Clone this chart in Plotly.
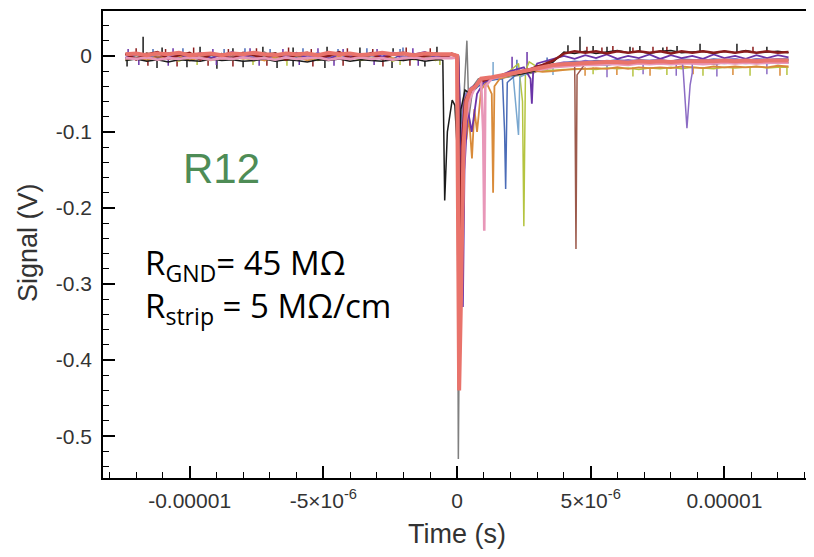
import plotly.graph_objects as go

# time grids (microseconds) for the quiet parts of every trace
T_PRE = [-12.4, -12.0, -11.6, -11.2, -10.8, -10.4, -10.0, -9.6, -9.2, -8.8,
         -8.4, -8.0, -7.6, -7.2, -6.8, -6.4, -6.0, -5.6, -5.2, -4.8,
         -4.4, -4.0, -3.6, -3.2, -2.8, -2.4, -2.0, -1.6, -1.2, -0.8, -0.4]
T_POST = [3.2, 3.6, 4.0, 4.4, 4.8, 5.2, 5.6, 6.0, 6.4, 6.8,
          7.2, 7.6, 8.0, 8.4, 8.8, 9.2, 9.6, 10.0, 10.4, 10.8,
          11.2, 11.6, 12.0, 12.4]

# baseline before the trigger (mV)
pre = {
    "gray": [-4, 1, 3, -5, 2, -2, 4, -3, 0, 3,
             -4, 1, -1, 5, -3, 2, -5, 1, 3, -2,
             4, -3, 0, 2, -4, 2, -1, 3, -3, 1, 2],
    "yellowgreen": [-6, -3, 0, -5, -2, -7, -1, -4, -6, -2,
                    -5, -2, -7, -1, -4, -6, 0, -3, -6, -2,
                    -4, -1, -6, -3, -1, -7, -2, -5, -3, -6, -2],
    "lightblue": [-2, 3, -4, 1, 2, -3, 0, 3, -2, 2,
                  -4, 1, 3, -2, 4, -3, 0, -1, 2, 3,
                  -4, 2, -1, 3, -3, 1, 2, -2, 4, -1, 0],
    "blue": [3, -2, 1, -4, 4, -1, -3, 2, 4, -3,
             2, -1, 5, -4, 0, 3, -2, -1, 4, -3,
             2, 4, -3, 0, 2, -4, 3, 1, -2, 3, -2],
    "orange": [-5, -2, -6, -1, -4, 0, -6, -2, -3, -5,
               -1, -4, -2, -6, -1, -3, 0, -6, -2, -4,
               -1, -5, 0, -4, -2, -3, -6, -1, -3, -5, -2],
    "brownred": [2, -3, 4, -2, 1, -4, 3, 0, -3, 3,
                 -1, 2, -4, 2, 4, -2, 0, -3, 3, -1,
                 2, 4, -3, 1, -4, 2, 3, -2, 0, -3, 2],
    "purple2": [1, -5, 0, 3, -2, 4, -1, -5, 3, 1,
                -3, 4, -2, 2, -6, 1, 3, -1, 4, -3,
                2, -4, 3, 0, -2, 5, -1, -4, 2, 3, -2],
    "purple": [-3, 3, -1, 5, -4, 2, -2, 4, -3, 1,
               5, -2, 3, -4, 2, -1, 4, -3, 2, -5,
               3, 0, -2, 4, -1, 3, -4, 2, 5, -2, 1],
    "black": [-6, -4, -7, -5, -8, -5, -6, -7, -4, -6,
              -5, -7, -6, -4, -7, -5, -6, -8, -5, -6,
              -4, -7, -5, -6, -7, -5, -6, -4, -7, -5, -6],
    "darkred": [3, -5, 2, 5, -4, 1, 4, -5, 2, 0,
                -4, 4, 1, -3, 3, -5, 2, 4, -2, 0,
                5, -3, 1, 3, -4, 2, 4, -3, 0, 3, -2],
    "pink": [-3, -4, -2, -5, -3, -4, -2, -3, -5, -3,
             -4, -2, -4, -3, -5, -2, -4, -3, -2, -5,
             -3, -4, -2, -4, -3, -5, -3, -2, -4, -3, -3],
    "salmon": [2, 3, 1, 3, 2, 4, 1, 2, 3, 1,
               3, 2, 4, 2, 1, 3, 2, 3, 1, 4,
               2, 3, 1, 2, 4, 2, 3, 1, 3, 2, 2],
}

# trigger region: times (us) and signal (mV)
event_t = {
    "gray": [-0.2, 0.0, 0.05, 0.12, 0.25, 0.37, 0.45, 0.6, 0.8, 1.2, 1.8, 2.4, 2.9],
    "yellowgreen": [-0.2, 0.05, 0.12, 0.25, 0.5, 0.8, 1.2, 1.8, 2.3, 2.45, 2.5, 2.56, 2.7, 3.0],
    "lightblue": [-0.2, 0.05, 0.15, 0.3, 0.6, 1.0, 1.5, 2.1, 2.25, 2.3, 2.35, 2.7, 3.0],
    "blue": [-0.2, 0.05, 0.15, 0.3, 0.5, 0.8, 1.2, 1.7, 1.78, 1.82, 1.88, 2.2, 2.7, 3.0],
    "orange": [-0.2, 0.05, 0.15, 0.25, 0.35, 0.45, 0.56, 0.65, 0.75, 0.9, 1.1, 1.3, 1.35, 1.4,
               1.6, 2.0, 2.5, 3.0],
    "brownred": [-0.2, 0.05, 0.14, 0.25, 0.4, 0.7, 1.1, 1.6, 2.2, 2.8],
    "purple2": [-0.2, 0.05, 0.12, 0.25, 0.5, 0.9, 1.4, 2.0, 2.6, 3.0],
    "purple": [-0.2, 0.05, 0.15, 0.22, 0.28, 0.4, 0.55, 0.75, 1.0, 1.5, 2.0, 2.5, 2.75, 2.8,
               2.85, 3.0],
    "black": [-0.6, -0.53, -0.46, -0.36, -0.3, -0.18, -0.08, 0.05, 0.15, 0.3, 0.5, 0.8, 1.2,
              1.8, 2.4, 2.9],
    "darkred": [-0.2, 0.03, 0.1, 0.18, 0.3, 0.5, 0.8, 1.2, 1.7, 2.2, 2.7, 3.0],
    "pink": [-0.2, 0.02, 0.1, 0.18, 0.3, 0.5, 0.7, 0.9, 0.98, 1.02, 1.06, 1.3, 1.8, 2.3, 2.8],
    "salmon": [-0.2, 0.0, 0.04, 0.08, 0.16, 0.24, 0.35, 0.5, 0.7, 0.9, 1.3, 1.8, 2.3, 2.8],
}
event_v = {
    "gray": [2, 0, -530, -200, -60, 20, -80, -40, -30, -32, -28, -25, -22],
    "yellowgreen": [-3, -2, -160, -60, -45, -38, -30, -25, -10, -60, -224, -20, -8, -14],
    "lightblue": [1, 0, -90, -50, -42, -35, -30, -26, -80, -104, -28, -22, -20],
    "blue": [2, -1, -180, -70, -50, -40, -32, -30, -100, -175, -35, -25, -20, -18],
    "orange": [-3, -2, -150, -60, -110, -80, -135, -70, -100, -45, -35, -50, -180, -40,
               -30, -26, -22, -20],
    "brownred": [2, 0, -140, -60, -48, -38, -30, -26, -22, -18],
    "purple2": [1, -1, -130, -55, -42, -33, -28, -24, -20, -16],
    "purple": [2, 0, -120, -330, -150, -70, -100, -50, -35, -28, -20, -15, -30, -63,
               -20, -10],
    "black": [-5, -6, -190, -100, -85, -58, -65, -150, -70, -45, -50, -35, -28,
              -26, -24, -20],
    "darkred": [3, 0, -300, -120, -60, -45, -35, -30, -25, -22, -18, -14],
    "pink": [-3, -2, -400, -250, -90, -55, -40, -32, -100, -230, -40, -30, -26, -22, -18],
    "salmon": [2, 0, -200, -440, -300, -120, -60, -45, -40, -30, -28, -25, -22, -18],
}

# late single pulses (us, mV)
late_t = {"brownred": [4.41, 4.45, 4.49], "purple2": [8.45, 8.6, 8.72, 8.8]}
late_v = {"brownred": [-40, -254, -25], "purple2": [-14, -95, -38, -22]}

# baseline after recovery (mV)
post = {
    "gray": [-16, -14, -13, -12, -12, -11, -12, -10, -11, -10, -9, -11,
             -10, -10, -9, -10, -11, -9, -10, -9, -10, -9, -10, -9],
    "yellowgreen": [-19, -19, -18, -18, -17, -18, -16, -17, -16, -18, -16, -17,
                    -15, -17, -15, -16, -17, -15, -16, -15, -14, -16, -15, -15],
    "lightblue": [-16, -15, -13, -12, -12, -11, -12, -10, -11, -10, -11, -10,
                  -11, -9, -10, -11, -9, -10, -9, -10, -9, -10, -9, -9],
    "blue": [-14, -12, -9, -7, -8, -6, -7, -5, -7, -5, -6, -5,
             -7, -4, -5, -6, -4, -5, -4, -6, -4, -5, -4, -4],
    "orange": [-21, -20, -18, -17, -17, -16, -17, -15, -17, -15, -16, -15,
               -16, -14, -15, -16, -14, -15, -14, -15, -14, -15, -13, -14],
    "brownred": [-16, -13, -11, -12, -10, -9, -10, -8, -9, -7, -8, -9,
                 -8, -9, -7, -8, -7, -9, -7, -6, -8, -7, -7, -6],
    "purple2": [-13, -11, -8, -9, -6, -8, -6, -7, -5, -7, -6, -5,
                -8, -5, -6, -4, -6, -5, -4, -6, -4, -5, -4, -5],
    "purple": [-8, -3, 0, -4, 1, -3, 2, -4, 0, -3, 2, -4,
               1, -3, 0, -4, 2, -3, 0, -4, 1, -3, 1, -2],
    "black": [-14, -8, 5, 3, 6, 3, 5, 7, 4, 6, 3, 6,
              7, 4, 5, 6, 3, 6, 4, 7, 4, 5, 6, 4],
    "darkred": [-12, -6, 3, 6, 4, 6, 3, 6, 4, 6, 4, 6,
                3, 6, 4, 6, 4, 6, 4, 6, 4, 6, 4, 5],
    "pink": [-18, -15, -14, -13, -12, -12, -11, -11, -12, -10, -11, -10,
             -11, -10, -10, -11, -10, -9, -10, -9, -10, -9, -9, -9],
    "salmon": [-15, -12, -11, -10, -9, -9, -8, -8, -9, -7, -8, -7,
               -8, -7, -7, -8, -7, -6, -7, -6, -7, -6, -6, -6],
}

# narrow noise spikes: drawn from a base level (mV) up/down to a value (mV) at time t (us)
ticks = [
    dict(trace="black", base=0,
         t=[-11.74, -11.03, -9.61, -8.38, -7.26, -6.13, -4.86, -3.63, -2.39, -0.75],
         v=[25, 11, 12, 10, 12, 11, 12, 11, 10, 12]),
    dict(trace="purple", base=0,
         t=[-12.3, -10.62, -9.13, -7.74, -6.51, -5.2, -4.26, -2.99, -1.65],
         v=[9, 10, 9, 10, 9, 10, 9, 9, 10]),
    dict(trace="blue", base=0,
         t=[-11.37, -10.25, -8.71, -7.93, -6.99, -5.76, -4.45, -3.37, -2.13, -2.02],
         v=[9, 10, 9, 10, 9, 10, 9, 10, 9, 11]),
    dict(trace="darkred", base=0,
         t=[-12.0, -10.9, -9.85, -8.55, -7.5, -6.3, -5.45, -4.1, -3.15, -1.9, -1.0],
         v=[10, 9, 11, 9, 10, 11, 9, 10, 9, 11, 10]),
    dict(trace="black", base=-6,
         t=[-12.34, -11.22, -10.1, -8.98, -8.0, -6.73, -6.13, -4.94, -3.63, -2.43, -1.2],
         v=[-14, -16, -15, -17, -15, -16, -14, -16, -15, -16, -14]),
    dict(trace="darkred", base=-4,
         t=[-11.56, -10.47, -9.31, -8.38, -7.11, -5.39, -4.26, -2.77, -1.76],
         v=[-13, -14, -13, -14, -13, -14, -13, -14, -13]),
    dict(trace="purple", base=-4,
         t=[-11.9, -10.8, -9.0, -7.4, -5.9, -4.6, -3.1, -1.45],
         v=[-12, -13, -12, -13, -12, -13, -12, -13]),
    dict(trace="yellowgreen", base=-4,
         t=[-9.72, -7.63, -6.36, -2.13, -0.64],
         v=[-12, -12, -13, -12, -12]),
    dict(trace="black", base=5,
         t=[4.15, 4.6, 5.09, 5.61, 6.47, 6.84, 7.7, 8.23, 9.09, 10.47, 11.59],
         v=[14, 25, 13, 12, 12, 13, 11, 13, 16, 16, 12]),
    dict(trace="darkred", base=5,
         t=[4.86, 5.42, 5.83, 6.58, 7.33, 7.85, 11.07],
         v=[12, 11, 13, 11, 12, 12, 12]),
    dict(trace="orange", base=-15,
         t=[4.79, 5.98, 7.22, 8.83, 10.32, 12.08],
         v=[-26, -25, -26, -24, -25, -26]),
    dict(trace="yellowgreen", base=-15,
         t=[5.09, 6.58, 7.85, 9.2, 10.96, 12.34],
         v=[-24, -27, -25, -26, -26, -25]),
    dict(trace="purple2", base=-6,
         t=[5.61, 6.96, 8.2, 9.72, 11.59],
         v=[-28, -24, -26, -27, -24]),
    dict(trace="purple", base=-22,
         t=[2.06, 2.62], v=[-1, 5]),
    dict(trace="blue", base=-20,
         t=[2.24, 3.37], v=[-5, -2]),
    dict(trace="lightblue", base=-25,
         t=[1.35, 3.59], v=[-8, -4]),
]

colors = {
    "gray": "#7f7f7f", "yellowgreen": "#b5c440", "lightblue": "#79a7cf",
    "blue": "#4b6cb7", "orange": "#d98b3a", "brownred": "#9c5a4c",
    "purple2": "#8c6cc4", "purple": "#6a34a8", "black": "#1b1b1b",
    "darkred": "#8b1c1c", "pink": "#e897b8", "salmon": "#e9736b",
}
widths = {"pink": 2.6, "salmon": 4.0, "darkred": 2.5, "purple": 1.8, "orange": 1.8}

X_TICKS = [-1e-5, -5e-6, 0, 5e-6, 1e-5]
X_LABELS = ["-0.00001", "-5×10<sup>-6</sup>", "0", "5×10<sup>-6</sup>", "0.00001"]
Y_TICKS = [0, -0.1, -0.2, -0.3, -0.4, -0.5]
Y_LABELS = ["0", "-0.1", "-0.2", "-0.3", "-0.4", "-0.5"]


def build_trace(name):
    t0 = event_t[name][0]
    pts = [(t, v) for t, v in zip(T_PRE, pre[name]) if t < t0]
    pts += list(zip(event_t[name], event_v[name]))
    pts += list(zip(T_POST, post[name]))
    pts += list(zip(late_t.get(name, []), late_v.get(name, [])))
    pts.sort()
    x = [t * 1e-6 for t, _ in pts]
    y = [v / 1000 for _, v in pts]
    return go.Scatter(x=x, y=y, mode="lines", name=name, hoverinfo="skip",
                      line=dict(color=colors[name], width=widths.get(name, 1.5)))


def build_ticks(group):
    x, y = [], []
    for t, v in zip(group["t"], group["v"]):
        x += [t * 1e-6, t * 1e-6, None]
        y += [group["base"] / 1000, v / 1000, None]
    return go.Scatter(x=x, y=y, mode="lines", hoverinfo="skip",
                      line=dict(color=colors[group["trace"]], width=1.5))


fig = go.Figure()
for group in ticks:
    fig.add_trace(build_ticks(group))
for name in colors:
    fig.add_trace(build_trace(name))

axis_font = dict(family="Liberation Sans, Arial, sans-serif", size=21, color="#333")
common = dict(tickmode="array", ticks="inside", ticklen=12, tickwidth=1.5, tickcolor="black",
              showline=True, linecolor="black", linewidth=1.5, mirror=True,
              showgrid=False, zeroline=False, tickfont=axis_font)
fig.update_xaxes(range=[-1.324e-5, 1.324e-5], tickvals=X_TICKS, ticktext=X_LABELS,
                 minor=dict(dtick=1e-6, tick0=0, ticks="inside", ticklen=6,
                            tickwidth=1, tickcolor="black"),
                 ticklabelstandoff=3, **common)
fig.update_yaxes(range=[-0.555, 0.059], tickvals=Y_TICKS, ticktext=Y_LABELS,
                 minor=dict(dtick=0.02, tick0=0, ticks="inside", ticklen=6,
                            tickwidth=1, tickcolor="black"),
                 ticklabelstandoff=5, **common)

title_font = dict(family="Liberation Sans, Arial, sans-serif", size=27, color="#333")
label_font = dict(family="Open Sans, sans-serif", size=33, color="black")
# the page adds an 8px body margin, so the figure is 8px smaller than the window
fig.update_layout(
    width=806, height=549, margin=dict(l=95, r=3, t=1, b=79),
    plot_bgcolor="white", paper_bgcolor="white", showlegend=False,
    annotations=[
        dict(text="Time (s)", xref="paper", yref="paper", x=0.5, y=-0.119,
             showarrow=False, font=title_font, xanchor="center", yanchor="middle"),
        dict(text="Signal (V)", xref="paper", yref="paper", x=-0.106, y=0.505,
             showarrow=False, font=title_font, textangle=-90,
             xanchor="center", yanchor="middle"),
        dict(text="R12", xref="paper", yref="paper", x=0.168, y=0.662, showarrow=False,
             font=dict(family="Liberation Sans, Arial, sans-serif", size=42, color="#4e8c56"),
             xanchor="center", yanchor="middle"),
        dict(text="R<sub>GND</sub>= 45 MΩ<br>R<sub>strip</sub> = 5 MΩ/cm",
             xref="paper", yref="paper", x=0.056, y=0.412, showarrow=False,
             font=label_font, align="left", xanchor="left", yanchor="middle"),
    ],
)

fig.write_html("out.html")
